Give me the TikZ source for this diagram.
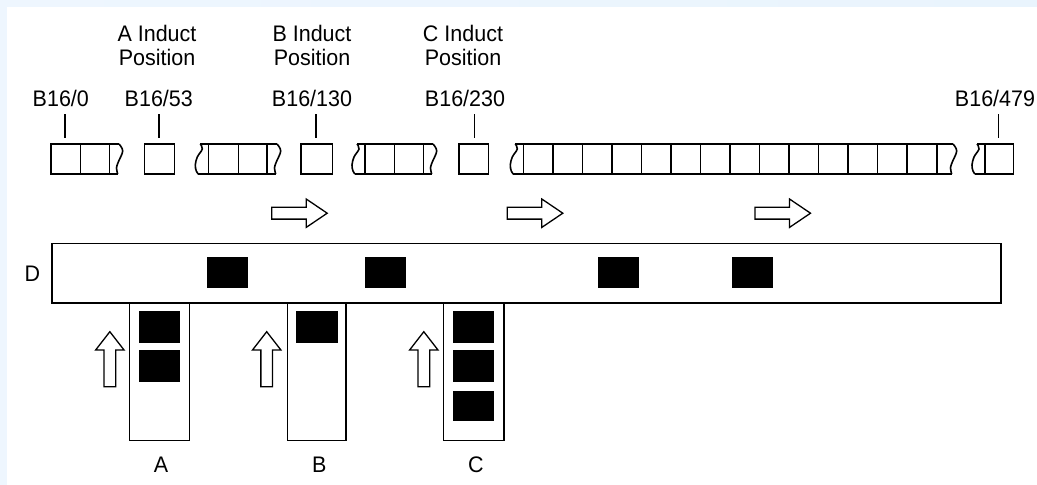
\documentclass[tikz,border=0pt]{standalone}
\usepackage{fontspec}
\setmainfont{Liberation Sans}[FakeStretch=0.955]
\definecolor{frameA}{HTML}{EEF6FE}
\definecolor{frameB}{HTML}{D6EBFB}
\definecolor{frameC}{HTML}{E9F4FD}
% torn ends of a broken run of cells (argument: x of the top end)
\newcommand\tearR[1]{\draw plot[smooth,tension=0.6] coordinates {(#1,144) ({#1+3.7},151) ({#1-0.7},162) ({#1-2.5},168) ({#1-1.3},174)};}
\newcommand\tearL[1]{\draw plot[smooth,tension=0.6] coordinates {(#1,144) ({#1+2},149) ({#1-3},157) ({#1-5},165) ({#1-4},171) ({#1-2},174)};}
% outlined block arrows (argument: start x / centre x)
\newcommand\rightarrowblock[1]{\draw[blockarrow] (#1,207.3) -- ({#1+34.5},207.3) -- ({#1+34.5},199) -- ({#1+55.5},213.2) -- ({#1+34.5},227.4) -- ({#1+34.5},219.1) -- (#1,219.1) -- cycle;}
\newcommand\uparrowblock[1]{\draw[blockarrow] ({#1-5.85},386.7) -- ({#1-5.85},350) -- ({#1-14.2},350) -- (#1,331.7) -- ({#1+14.2},350) -- ({#1+5.85},350) -- ({#1+5.85},386.7) -- cycle;}
\begin{document}
\begin{tikzpicture}[x=1pt,y=-1pt,line width=1.6pt,line join=miter,
  lbl/.style={font=\fontsize{22.5}{24.3}\selectfont,inner sep=0pt},
  load/.style={fill=black},
  blockarrow/.style={draw=black,fill=white,line width=1.3pt}]
\useasboundingbox (0,0) rectangle (1037,485);
% window frame
\fill[left color=frameA,middle color=frameB,right color=frameC] (0,0) rectangle (1037,6);
\fill[frameA] (0,6) rectangle (7,485);

% induct position captions
\node[lbl,align=center,anchor=north] (capA) at (157,24.5) {A Induct\\Position};
\node[lbl,align=center,anchor=north] (capB) at (312,24.5) {B Induct\\Position};
\node[lbl,align=center,anchor=north] (capC) at (463,24.5) {C Induct\\Position};

% buffer addresses
\node[lbl,anchor=base] (b0)   at (60.8,106) {B16/0};
\node[lbl,anchor=base] (b53)  at (158.8,106) {B16/53};
\node[lbl,anchor=base] (b130) at (312,106) {B16/130};
\node[lbl,anchor=base] (b230) at (465,106) {B16/230};
\node[lbl,anchor=base] (b479) at (995,106) {B16/479};
\foreach \x in {65,158.7,316,474.3,998.3} \draw (\x,114) -- (\x,138);

% cell runs
\draw (119,144) -- (51,144) -- (51,174) -- (117.7,174);
\foreach \x in {80.3,109.3} \draw (\x,144) -- (\x,174);
\tearR{119}
\draw (144.3,144) rectangle (174.3,174);
\draw (200.3,144) -- (277,144);
\draw (198.3,174) -- (275.7,174);
\foreach \x in {208.3,238.3,266.7} \draw (\x,144) -- (\x,174);
\tearL{200.3}
\tearR{277}
\draw (301,144) rectangle (332.3,174);
\draw (357,144) -- (433,144);
\draw (355,174) -- (431.7,174);
\foreach \x in {365,394.3,423.3} \draw (\x,144) -- (\x,174);
\tearL{357}
\tearR{433}
\draw (459,144) rectangle (488.3,174);
\draw (515.3,144) -- (953,144);
\draw (513.3,174) -- (951.7,174);
\foreach \i in {0,...,14} \draw ({523.3+29.53*\i},144) -- ({523.3+29.53*\i},174);
\tearL{515.3}
\tearR{953}
\draw (977,144) -- (1013.3,144) -- (1013.3,174) -- (975,174);
\draw (985,144) -- (985,174);
\tearL{977}

% travel direction
\rightarrowblock{271.7}
\rightarrowblock{507.3}
\rightarrowblock{755}

% main conveyor with loads
\draw (51.7,243.3) rectangle (1000.7,302.7);
\node[lbl,anchor=center] (lblD) at (32.3,273.3) {D};
\foreach \x in {207.3,365,598,732} \fill[load] (\x,256.7) rectangle ++(40.5,31.6);

% induct lanes
\draw (129.3,302.7) -- (129.3,440.3) -- (189.3,440.3) -- (189.3,302.7);
\draw (287.3,302.7) -- (287.3,440.3) -- (345.7,440.3) -- (345.7,302.7);
\draw (443.3,302.7) -- (443.3,440.3) -- (503.7,440.3) -- (503.7,302.7);
\fill[load] (139.3,310.7) rectangle (180,342.7);
\fill[load] (139.3,350) rectangle (180,381.7);
\fill[load] (295.7,310.7) rectangle (337.7,342.7);
\fill[load] (453.3,310.7) rectangle (494,342.7);
\fill[load] (453.3,350) rectangle (494,381.7);
\fill[load] (453.3,390.7) rectangle (494,420.7);
\uparrowblock{109.85}
\uparrowblock{266.7}
\uparrowblock{423.8}
\node[lbl,anchor=center] (lblA) at (161,465) {A};
\node[lbl,anchor=center] (lblB) at (319.3,465) {B};
\node[lbl,anchor=center] (lblC) at (476,465) {C};
\end{tikzpicture}
\end{document}
